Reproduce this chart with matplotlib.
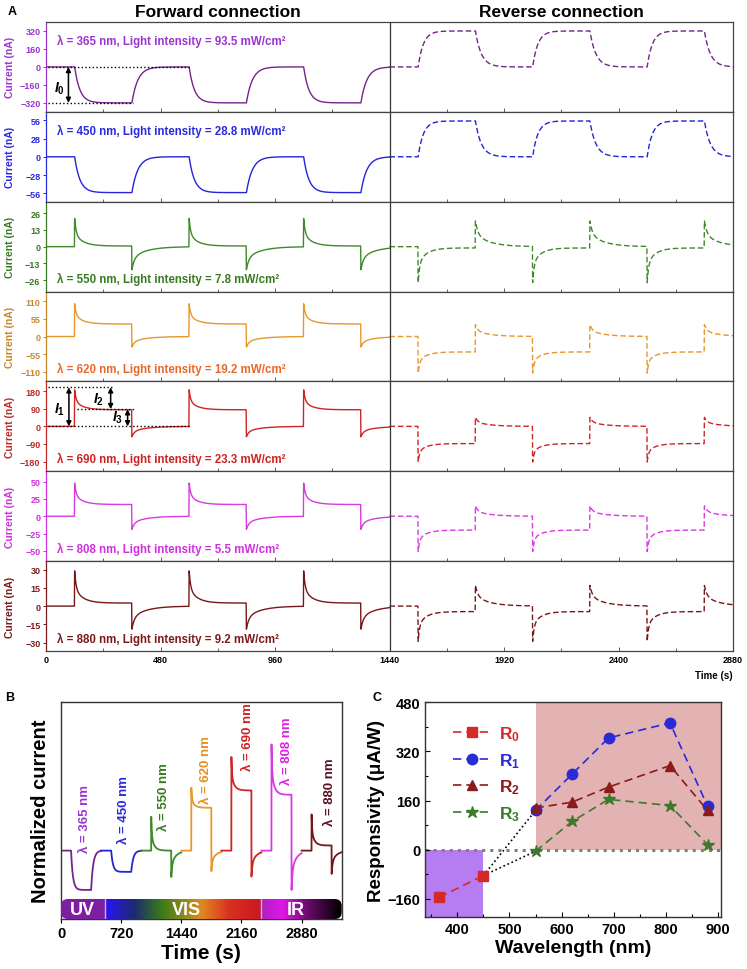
import numpy as np
import matplotlib.pyplot as plt
from matplotlib.patches import FancyBboxPatch
from matplotlib.colors import LinearSegmentedColormap
from matplotlib.ticker import MultipleLocator

plt.rcParams['font.family'] = ['Liberation Sans', 'DejaVu Sans']
plt.rcParams['font.weight'] = 'bold'
plt.rcParams['axes.labelweight'] = 'bold'
plt.rcParams['mathtext.fontset'] = 'custom'
plt.rcParams['mathtext.it'] = 'Liberation Sans:italic:bold'
plt.rcParams['mathtext.rm'] = 'Liberation Sans:bold'
plt.rcParams['mathtext.bf'] = 'Liberation Sans:bold'

# ---- data ----
wavelengths = [365, 450, 550, 620, 690, 808, 880]
intensity = [93.5, 28.8, 7.8, 19.2, 23.3, 5.5, 9.2]

# panel A, forward connection (nA): value right after light on, plateau, value right after light off
fwd_peak = [0, 0, 22, 102, 187, 48, 29]
fwd_plateau = [-320, -55, 0.5, 39, 85, 17, 2.5]
fwd_dip = [-320, -55, -18, -33, -53, -19, -19]
# reverse connection
rev_peak = [0, 0, -28, -114, -182, -51, -29]
rev_plateau = [320, 55, -1, -48, -88, -20, -4.5]
rev_dip = [320, 55, 20, 37, 46, 15, 17]

ytick_step = [160, 28, 13, 55, 90, 25, 15]
ylim_a = [400, 69, 35, 140, 230, 65, 37]

on_fwd = [120, 600, 1080]
off_fwd = [360, 840, 1320]
on_rev = [1560, 2040, 2520]
off_rev = [1800, 2280, 2760]

# panel B, normalized current
norm_peak = [0, 0, 0.86, 1.60, 2.38, 2.70, 0.92]
norm_plateau = [-1.0, -0.54, 0.0, 1.09, 1.53, 1.42, 0.13]
norm_dip = [-1.0, -0.54, -0.67, -0.52, -0.66, -1.0, -0.59]
band_edges = [524, 2400]

# panel C, responsivity (uA/W)
wl_r0 = [365, 450]
R0 = [-155, -84]
wl_r = [550, 620, 690, 808, 880]
R1 = [128, 246, 364, 413, 142]
R2 = [136, 155, 204, 274, 128]
R3 = [-5, 92, 164, 144, 17]

trace_colors = ['#74258a', '#2424d8', '#3f8a2a', '#e8972c', '#cf2424', '#d83ae0', '#761818']
label_colors = ['#9a35d0', '#2a2ae0', '#3a7a22', '#c8862a', '#c02828', '#d030e0', '#7a1a1a']
text_colors = ['#9a35d0', '#2a2ae0', '#3a7a22', '#e8682a', '#cc2222', '#d030e0', '#7a1a1a']
b_label_colors = ['#9a35d0', '#2a2ae0', '#3a7a22', '#e8901a', '#d42020', '#e020e0', '#5a1020']


def trace(t, ons, offs, peak, plateau, dip, smooth):
    y = np.zeros_like(t, dtype=float)
    for on, off in zip(ons, offs):
        m = (t >= on) & (t < off)
        dt = t[m] - on
        f = np.exp(-dt / 22) if smooth else 0.55 * np.exp(-dt / 6) + 0.45 * np.exp(-dt / 35)
        y[m] = plateau + (peak - plateau) * f
        m2 = (t >= off) & (t < off + 240)
        dt = t[m2] - off
        f = np.exp(-dt / 25) if smooth else 0.5 * np.exp(-dt / 10) + 0.5 * np.exp(-dt / 60)
        y[m2] = dip * f
    return y


fig = plt.figure(figsize=(7.47, 9.70), dpi=100)

# ---------------- panel A ----------------
L, W = 0.0616, 0.9197
top, h = 0.9763, (0.9763 - 0.3278) / 7
t_fwd = np.arange(0, 1441, 1.0)
t_rev = np.arange(1440, 2881, 1.0)

for i in range(7):
    ax = fig.add_axes([L, top - (i + 1) * h, W, h])
    smooth = i < 2
    yf = trace(t_fwd, on_fwd, off_fwd, fwd_peak[i], fwd_plateau[i], fwd_dip[i], smooth)
    yr = trace(t_rev, on_rev, off_rev, rev_peak[i], rev_plateau[i], rev_dip[i], smooth)
    ax.plot(t_fwd, yf, color=trace_colors[i], lw=1.0)
    ax.plot(t_rev, yr, color=trace_colors[i], lw=1.0, ls=(0, (4, 2)))
    ax.axvline(1440, color='#333333', lw=0.9)
    ax.set_xlim(0, 2880)
    ax.set_ylim(-ylim_a[i], ylim_a[i])
    s = ytick_step[i]
    ax.set_yticks([-2 * s, -s, 0, s, 2 * s])
    ax.tick_params(axis='y', colors=label_colors[i], labelsize=6.5, length=2.5, width=0.7,
                   direction='out', pad=1.5)
    ax.xaxis.set_major_locator(MultipleLocator(480))
    ax.xaxis.set_minor_locator(MultipleLocator(240))
    ax.tick_params(axis='x', which='both', direction='in', width=0.6, colors='#444444',
                   labelbottom=(i == 6), labelsize=6.5, labelcolor='black', pad=3)
    ax.tick_params(axis='x', which='major', length=3)
    ax.tick_params(axis='x', which='minor', length=2)
    for sp in ['top', 'right', 'bottom']:
        ax.spines[sp].set_color('#444444')
        ax.spines[sp].set_linewidth(0.9)
    ax.spines['left'].set_color(label_colors[i])
    ax.spines['left'].set_linewidth(0.9)
    ax.set_ylabel('Current (nA)', color=label_colors[i], fontsize=7.5)
    ax.yaxis.set_label_coords(-0.045, 0.5)
    ty = 0.79 if i < 2 else 0.145
    ax.text(0.016, ty, f'λ = {wavelengths[i]} nm, Light intensity = {intensity[i]} mW/cm²',
            transform=ax.transAxes, color=text_colors[i], fontsize=8.3, va='center')

    if i == 0:
        ax.plot([8, 600], [0, 0], ls=':', color='k', lw=1)
        ax.plot([8, 363], [fwd_plateau[0], fwd_plateau[0]], ls=':', color='k', lw=1)
        ax.annotate('', xy=(94, fwd_plateau[0]), xytext=(94, 0),
                    arrowprops=dict(arrowstyle='<|-|>', lw=1.1, color='k',
                                    mutation_scale=7, shrinkA=0, shrinkB=0))
        ax.text(56, -190, '$I_0$', fontsize=10, ha='center', va='center')
    if i == 4:
        ax.plot([8, 277], [200, 200], ls=':', color='k', lw=1)
        ax.plot([131, 370], [88, 88], ls=':', color='k', lw=1)
        ax.plot([8, 604], [0, 0], ls=':', color='k', lw=1)
        arrow = dict(arrowstyle='<|-|>', lw=1.1, color='k', mutation_scale=7, shrinkA=0, shrinkB=0)
        ax.annotate('', xy=(96, 200), xytext=(96, 0), arrowprops=arrow)
        ax.annotate('', xy=(271, 200), xytext=(271, 88), arrowprops=arrow)
        ax.annotate('', xy=(342, 88), xytext=(342, 0), arrowprops=arrow)
        ax.text(58, 89, '$I_1$', fontsize=10, ha='center', va='center')
        ax.text(222, 140, '$I_2$', fontsize=10, ha='center', va='center')
        ax.text(298, 48, '$I_3$', fontsize=10, ha='center', va='center')

fig.text(0.2918, 0.9876, 'Forward connection', ha='center', va='center', fontsize=12.5)
fig.text(0.752, 0.9876, 'Reverse connection', ha='center', va='center', fontsize=12.5)
fig.text(0.981, 0.303, 'Time (s)', ha='right', va='center', fontsize=7)
fig.text(0.0107, 0.9876, 'A', ha='left', va='center', fontsize=9)
fig.text(0.0067, 0.2804, 'B', ha='left', va='center', fontsize=9)
fig.text(0.498, 0.2804, 'C', ha='left', va='center', fontsize=9)

# ---------------- panel B ----------------
axB = fig.add_axes([0.0817, 0.0515, 0.3757, 0.2238])
yb0, yb1 = -1.74, 3.78
band_top = -1.23
t_loc = np.arange(0, 481, 1.0)
for k in range(7):
    y = trace(t_loc, [120], [360], norm_peak[k], norm_plateau[k], norm_dip[k], k < 2)
    axB.plot(t_loc + 480 * k, y, color=trace_colors[k], lw=1.3)
label_pos = [(290, -0.03), (754, 0.2), (1238, 0.53), (1730, 1.2), (2239, 2.05), (2710, 1.7), (3222, 0.64)]
for k, (tx, ty) in enumerate(label_pos):
    axB.text(tx, ty, f'λ = {wavelengths[k]} nm', rotation=90, ha='center', va='bottom',
             color=b_label_colors[k], fontsize=9.5)
axB.set_xlim(0, 3360)
axB.set_ylim(yb0, yb1)
axB.set_yticks([])
axB.set_xticks([0, 720, 1440, 2160, 2880])
axB.tick_params(axis='x', labelsize=10.5, direction='out', length=3, pad=2)
axB.set_xlabel('Time (s)', fontsize=15, labelpad=2)
axB.set_ylabel('Normalized current', fontsize=14.5, labelpad=8)
for sp in axB.spines.values():
    sp.set_linewidth(1.0)
    sp.set_color('#333333')

band_cmap = LinearSegmentedColormap.from_list('band', [
    (0.0, '#7e1fa2'), (0.155, '#7e1fa2'), (0.158, '#2a14f5'), (0.26, '#1c2a70'),
    (0.357, '#3a7a1a'), (0.44, '#8f8a22'), (0.5, '#e08a20'), (0.60, '#d83020'),
    (0.70, '#cc1a22'), (0.714, '#c01a40'), (0.718, '#b020c0'), (0.79, '#e018e8'),
    (0.88, '#6a0a6a'), (1.0, '#000000')])
grad = np.linspace(0, 1, 600).reshape(1, -1)
im = axB.imshow(grad, aspect='auto', cmap=band_cmap, extent=[0, 3360, yb0, band_top],
                zorder=3, interpolation='bilinear')
x_per_px = 3360 / 281.0
y_per_px = (yb1 - yb0) / 217.0
clip = FancyBboxPatch((0, yb0), 3360, band_top - yb0,
                      boxstyle=f'round,pad=0,rounding_size={7 * x_per_px}',
                      mutation_aspect=y_per_px / x_per_px, transform=axB.transData)
im.set_clip_path(clip)
for xe in band_edges:
    axB.plot([xe, xe], [yb0, band_top], color='#c8b0e0', lw=1, zorder=4)
axB.text(250, (yb0 + band_top) / 2, 'UV', color='white', fontsize=13, ha='center', va='center', zorder=5)
axB.text(1500, (yb0 + band_top) / 2, 'VIS', color='white', fontsize=13, ha='center', va='center', zorder=5)
axB.text(2811, (yb0 + band_top) / 2, 'IR', color='white', fontsize=13, ha='center', va='center', zorder=5)
axB.set_xlim(0, 3360)
axB.set_ylim(yb0, yb1)

# ---------------- panel C ----------------
axC = fig.add_axes([0.569, 0.0533, 0.3963, 0.2216])
xc0, xc1 = 338, 906
yc0, yc1 = -220, 480
axC.fill_between([xc0, 450], yc0, 0, color='#b67cf2', lw=0, zorder=0)
axC.fill_between([550, xc1], 0, yc1, color='#e3b2b2', lw=0, zorder=0)
axC.axhline(0, color='#808080', lw=2.2, ls=':', zorder=1)
axC.plot([wl_r0[1], wl_r[0]], [R0[1], R1[0]], ls=':', color='k', lw=1.2, zorder=2)
axC.plot([wl_r0[1], wl_r[0]], [R0[1], R3[0]], ls=':', color='k', lw=1.2, zorder=2)
dash = (0, (5, 3))
l0, = axC.plot(wl_r0, R0, ls=dash, marker='s', color='#d42a2a', mec='#d42a2a', lw=1.2, ms=6.5, label='R$_0$', zorder=3)
l1, = axC.plot(wl_r, R1, ls=dash, marker='o', color='#2a2ad8', lw=1.2, ms=7.5, label='R$_1$', zorder=3)
l2, = axC.plot(wl_r, R2, ls=dash, marker='^', color='#8b1a1a', lw=1.2, ms=7.5, label='R$_2$', zorder=3)
l3, = axC.plot(wl_r, R3, ls=dash, marker='*', color='#3a7a2a', lw=1.2, ms=9, label='R$_3$', zorder=3)
leg = axC.legend(handles=[l0, l1, l2, l3], loc='upper left', bbox_to_anchor=(0.04, 0.97),
                 frameon=False, fontsize=12.5, handlelength=2.2, labelspacing=0.45,
                 handletextpad=0.5)
for txt, c in zip(leg.get_texts(), ['#d42a2a', '#2a2ad8', '#8b1a1a', '#3a7a2a']):
    txt.set_color(c)
axC.set_xlim(xc0, xc1)
axC.set_ylim(yc0, yc1)
axC.set_yticks([-160, 0, 160, 320, 480])
axC.xaxis.set_major_locator(MultipleLocator(100))
axC.xaxis.set_minor_locator(MultipleLocator(50))
axC.yaxis.set_minor_locator(MultipleLocator(80))
axC.tick_params(which='both', direction='in', labelsize=10.5, width=0.8)
axC.tick_params(which='major', length=3.5)
axC.tick_params(which='minor', length=2)
axC.set_xlabel('Wavelength (nm)', fontsize=14, labelpad=2)
axC.set_ylabel('Responsivity (μA/W)', fontsize=13.5, labelpad=2)
for sp in axC.spines.values():
    sp.set_linewidth(1.0)
    sp.set_color('#333333')

fig.savefig('out.png', dpi=100)
